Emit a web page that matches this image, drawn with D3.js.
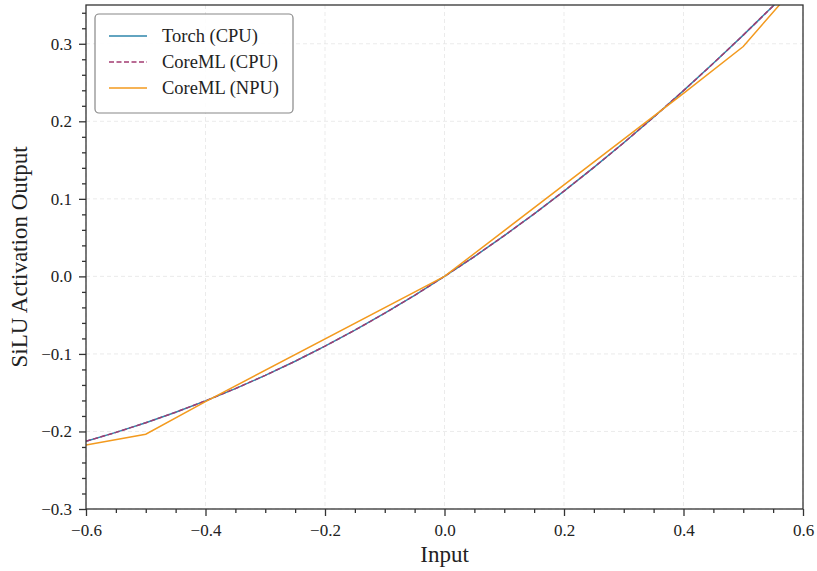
<!DOCTYPE html>
<meta charset="utf-8" />
<html>
<head>
    <style>
        body { margin: 0; background: #fff; }
        text { font-family: "Liberation Serif", "DejaVu Serif", serif; fill: #222; }
        .grid line { stroke: #e6e6e6; stroke-width: 0.8; stroke-dasharray: 4,3; }
        .axis path { display: none; }
        .axis line { stroke: #333; stroke-width: 1.3; }
    </style>
</head>
<body>
    <svg width="817" height="571"></svg>
    <script src="https://d3js.org/d3.v7.min.js"></script>
    <script>
        // data
        var inputs = [-0.6, -0.55, -0.5, -0.45, -0.4, -0.35, -0.3, -0.25, -0.2, -0.15, -0.1, -0.05,
            0, 0.05, 0.1, 0.15, 0.2, 0.25, 0.3, 0.35, 0.4, 0.45, 0.5, 0.55, 0.6];
        var torchCpu = [-0.2126, -0.2012, -0.1888, -0.1752, -0.1605, -0.1447, -0.1277, -0.1095, -0.0900, -0.0694, -0.0475, -0.0244,
            0, 0.0256, 0.0525, 0.0806, 0.1100, 0.1405, 0.1723, 0.2053, 0.2395, 0.2748, 0.3112, 0.3488, 0.3874];
        var coremlCpu = [-0.2126, -0.2012, -0.1888, -0.1752, -0.1605, -0.1447, -0.1277, -0.1095, -0.0900, -0.0694, -0.0475, -0.0244,
            0, 0.0256, 0.0525, 0.0806, 0.1100, 0.1405, 0.1723, 0.2053, 0.2395, 0.2748, 0.3112, 0.3488, 0.3874];
        var npuInputs = [-0.6, -0.5, -0.4, 0, 0.4, 0.5, 0.6];
        var coremlNpu = [-0.2175, -0.2035, -0.1615, 0, 0.236, 0.2965, 0.385];
        var xTicks = [-0.6, -0.4, -0.2, 0, 0.2, 0.4, 0.6];
        var yTicks = [-0.3, -0.2, -0.1, 0, 0.1, 0.2, 0.3];
        var seriesNames = ["Torch (CPU)", "CoreML (CPU)", "CoreML (NPU)"];
        var colors = ["#2E86AB", "#A23B72", "#F39A1E"];

        var svg = d3.select("svg");
        var mLeft = 86, mRight = 803, mTop = 5, mBottom = 509;

        var x = d3.scaleLinear().domain([-0.6, 0.6]).range([mLeft, mRight]);
        var y = d3.scaleLinear().domain([-0.3, 0.35]).range([mBottom, mTop]);
        var fmt = d3.format(".1f");

        function notMajor(step) {
            return function (d) {
                var k = d / step;
                return Math.abs(Math.round(k) - k) > 0.01;
            };
        }

        svg.append("clipPath").attr("id", "clip")
            .append("rect").attr("x", mLeft).attr("y", mTop)
            .attr("width", mRight - mLeft).attr("height", mBottom - mTop);

        // grid
        var grid = svg.append("g").attr("class", "grid");
        grid.selectAll(".gx").data(xTicks).enter().append("line")
            .attr("x1", function (d) { return x(d); }).attr("x2", function (d) { return x(d); })
            .attr("y1", mTop).attr("y2", mBottom);
        grid.selectAll(".gy").data(yTicks).enter().append("line")
            .attr("y1", function (d) { return y(d); }).attr("y2", function (d) { return y(d); })
            .attr("x1", mLeft).attr("x2", mRight);

        // lines
        var plot = svg.append("g").attr("clip-path", "url(#clip)");
        var line = d3.line()
            .x(function (d) { return x(d[0]); })
            .y(function (d) { return y(d[1]); });

        plot.append("path").datum(d3.zip(inputs, torchCpu))
            .attr("d", line).attr("fill", "none")
            .attr("stroke", colors[0]).attr("stroke-width", 1.5);
        plot.append("path").datum(d3.zip(inputs, coremlCpu))
            .attr("d", line).attr("fill", "none")
            .attr("stroke", colors[1]).attr("stroke-width", 1.5)
            .attr("stroke-dasharray", "5,2.5");
        plot.append("path").datum(d3.zip(npuInputs, coremlNpu))
            .attr("d", line).attr("fill", "none")
            .attr("stroke", colors[2]).attr("stroke-width", 1.5);

        // axes
        svg.append("g").attr("class", "axis")
            .attr("transform", "translate(0," + mBottom + ")")
            .call(d3.axisBottom(x).tickValues(xTicks).tickFormat(fmt).tickSize(7).tickPadding(8));
        svg.append("g").attr("class", "axis")
            .attr("transform", "translate(0," + mBottom + ")")
            .call(d3.axisBottom(x).tickValues(d3.range(-0.55, 0.6, 0.05).filter(notMajor(0.2)))
                .tickFormat("").tickSize(4));
        svg.append("g").attr("class", "axis")
            .attr("transform", "translate(" + mLeft + ",0)")
            .call(d3.axisLeft(y).tickValues(yTicks).tickFormat(fmt).tickSize(7).tickPadding(7));
        svg.append("g").attr("class", "axis")
            .attr("transform", "translate(" + mLeft + ",0)")
            .call(d3.axisLeft(y).tickValues(d3.range(-0.28, 0.35, 0.02).filter(notMajor(0.1)))
                .tickFormat("").tickSize(4));
        svg.selectAll(".axis text").style("font-size", "17px")
            .style("font-family", "Liberation Serif, serif").attr("fill", "#222");

        // frame
        svg.append("rect").attr("x", mLeft).attr("y", mTop)
            .attr("width", mRight - mLeft).attr("height", mBottom - mTop)
            .attr("fill", "none").attr("stroke", "#333").attr("stroke-width", 1.3);

        // labels
        svg.append("text").attr("x", (mLeft + mRight) / 2).attr("y", 562)
            .attr("text-anchor", "middle").style("font-size", "23px").text("Input");
        svg.append("text")
            .attr("transform", "translate(27," + (mTop + mBottom) / 2 + ") rotate(-90)")
            .attr("text-anchor", "middle").style("font-size", "23px").text("SiLU Activation Output");

        // legend
        var lg = svg.append("g");
        lg.append("rect").attr("x", 95).attr("y", 14).attr("width", 198).attr("height", 99)
            .attr("rx", 4).attr("fill", "#fff").attr("fill-opacity", 0.9)
            .attr("stroke", "#888").attr("stroke-width", 1.2);
        seriesNames.forEach(function (name, i) {
            var yy = 36 + i * 26;
            lg.append("line").attr("x1", 109).attr("x2", 147).attr("y1", yy).attr("y2", yy)
                .attr("stroke", colors[i]).attr("stroke-width", 1.5)
                .attr("stroke-dasharray", i === 1 ? "5,2.5" : null);
            lg.append("text").attr("x", 162).attr("y", yy + 6)
                .style("font-size", "18.5px").text(name);
        });
    </script>
</body>
</html>
